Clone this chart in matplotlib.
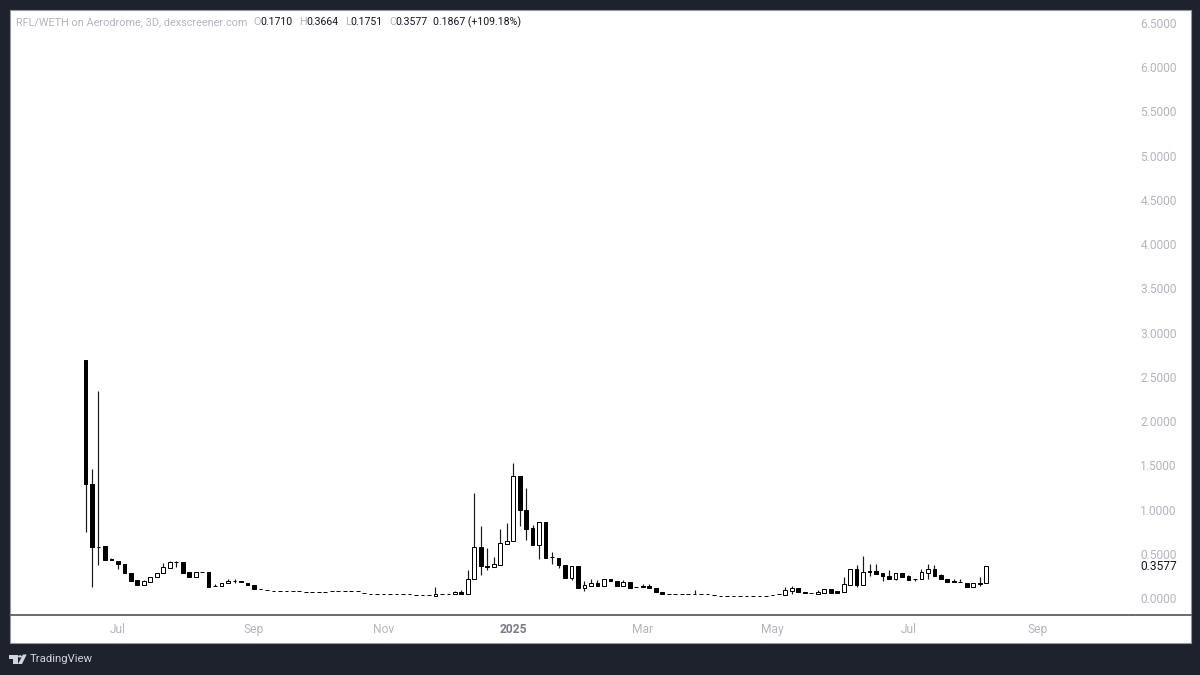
"""
RFL/WETH 3D candlestick chart, TradingView style.
"""

import matplotlib

matplotlib.use("Agg")

import matplotlib.pyplot as plt
from matplotlib.lines import Line2D
from matplotlib.patches import Polygon, Rectangle, Circle

plt.rcParams["font.family"] = ["Roboto", "DejaVu Sans"]

opens = [
    2.69, 1.29, 0.58, 0.588, 0.44, 0.42, 0.38, 0.285, 0.2, 0.145,
    0.185, 0.24, 0.28, 0.34, 0.41, 0.41, 0.29, 0.235, 0.295, 0.295,
    0.14, 0.135, 0.17, 0.195, 0.19, 0.165, 0.15, 0.105, 0.09, 0.08,
    0.08, 0.08, 0.08, 0.08, 0.07, 0.07, 0.065, 0.07, 0.075, 0.08,
    0.08, 0.075, 0.075, 0.06, 0.05, 0.05, 0.05, 0.05, 0.05, 0.05,
    0.04, 0.035, 0.03, 0.03, 0.02, 0.04, 0.04, 0.04, 0.07, 0.045,
    0.21, 0.577, 0.36, 0.35, 0.37, 0.61, 0.64, 1.38, 1.0, 0.795,
    0.6, 0.86, 0.46, 0.455, 0.375, 0.225, 0.365, 0.11, 0.14, 0.175,
    0.14, 0.21, 0.19, 0.135, 0.18, 0.125, 0.135, 0.135, 0.11, 0.065,
    0.05, 0.05, 0.045, 0.045, 0.04, 0.045, 0.05, 0.03, 0.025, 0.025,
    0.025, 0.025, 0.025, 0.025, 0.025, 0.025, 0.03, 0.04, 0.03, 0.08,
    0.11, 0.065, 0.06, 0.05, 0.06, 0.1, 0.08, 0.07, 0.145, 0.325,
    0.145, 0.3, 0.305, 0.28, 0.25, 0.215, 0.28, 0.245, 0.22, 0.22,
    0.285, 0.325, 0.255, 0.22, 0.19, 0.185, 0.175, 0.13, 0.165, 0.171,
]
highs = [
    2.69, 1.46, 2.34, 0.588, 0.45, 0.42, 0.38, 0.285, 0.2, 0.2,
    0.24, 0.28, 0.395, 0.42, 0.42, 0.41, 0.29, 0.29, 0.295, 0.295,
    0.155, 0.165, 0.22, 0.21, 0.19, 0.165, 0.15, 0.105, 0.09, 0.08,
    0.08, 0.08, 0.08, 0.08, 0.07, 0.07, 0.065, 0.07, 0.075, 0.08,
    0.08, 0.075, 0.075, 0.06, 0.05, 0.05, 0.05, 0.05, 0.05, 0.05,
    0.04, 0.035, 0.03, 0.03, 0.12, 0.04, 0.045, 0.08, 0.085, 0.32,
    1.19, 0.81, 0.57, 0.46, 0.78, 0.85, 1.53, 1.38, 1.24, 0.82,
    0.86, 0.86, 0.52, 0.455, 0.375, 0.365, 0.365, 0.19, 0.22, 0.2,
    0.21, 0.21, 0.19, 0.2, 0.18, 0.125, 0.155, 0.155, 0.11, 0.065,
    0.05, 0.05, 0.045, 0.045, 0.085, 0.045, 0.05, 0.03, 0.025, 0.025,
    0.025, 0.025, 0.025, 0.025, 0.025, 0.025, 0.03, 0.04, 0.13, 0.135,
    0.11, 0.065, 0.06, 0.095, 0.1, 0.1, 0.08, 0.235, 0.325, 0.375,
    0.47, 0.39, 0.385, 0.28, 0.32, 0.28, 0.28, 0.26, 0.22, 0.33,
    0.385, 0.37, 0.275, 0.22, 0.215, 0.21, 0.175, 0.165, 0.24, 0.3664,
]
lows = [
    0.746, 0.13, 0.373, 0.43, 0.43, 0.33, 0.28, 0.195, 0.145, 0.145,
    0.185, 0.24, 0.28, 0.34, 0.35, 0.285, 0.235, 0.235, 0.29, 0.13,
    0.14, 0.135, 0.17, 0.175, 0.185, 0.145, 0.1, 0.1, 0.09, 0.08,
    0.08, 0.08, 0.08, 0.075, 0.07, 0.07, 0.065, 0.07, 0.075, 0.08,
    0.08, 0.075, 0.075, 0.06, 0.05, 0.05, 0.05, 0.05, 0.05, 0.05,
    0.04, 0.035, 0.03, 0.03, 0.02, 0.04, 0.04, 0.04, 0.05, 0.045,
    0.21, 0.26, 0.32, 0.35, 0.37, 0.61, 0.64, 0.81, 0.66, 0.6,
    0.44, 0.45, 0.39, 0.34, 0.23, 0.2, 0.115, 0.08, 0.14, 0.14,
    0.14, 0.19, 0.135, 0.135, 0.115, 0.12, 0.13, 0.11, 0.065, 0.04,
    0.045, 0.045, 0.045, 0.045, 0.04, 0.045, 0.05, 0.03, 0.025, 0.025,
    0.025, 0.025, 0.025, 0.025, 0.025, 0.025, 0.03, 0.04, 0.03, 0.05,
    0.065, 0.06, 0.055, 0.05, 0.06, 0.06, 0.055, 0.07, 0.145, 0.13,
    0.145, 0.25, 0.27, 0.19, 0.215, 0.2, 0.24, 0.2, 0.19, 0.22,
    0.215, 0.25, 0.215, 0.185, 0.185, 0.18, 0.13, 0.13, 0.135, 0.1751,
]
closes = [
    1.29, 0.577, 0.575, 0.43, 0.43, 0.38, 0.28, 0.195, 0.145, 0.19,
    0.24, 0.28, 0.35, 0.41, 0.41, 0.285, 0.235, 0.29, 0.29, 0.13,
    0.14, 0.165, 0.195, 0.19, 0.185, 0.145, 0.1, 0.1, 0.09, 0.08,
    0.08, 0.08, 0.08, 0.08, 0.07, 0.07, 0.065, 0.07, 0.075, 0.08,
    0.08, 0.075, 0.075, 0.06, 0.05, 0.05, 0.05, 0.05, 0.05, 0.05,
    0.04, 0.035, 0.03, 0.03, 0.04, 0.04, 0.045, 0.07, 0.05, 0.21,
    0.577, 0.36, 0.35, 0.38, 0.62, 0.65, 1.38, 0.99, 0.78, 0.6,
    0.86, 0.45, 0.46, 0.37, 0.23, 0.365, 0.115, 0.145, 0.175, 0.14,
    0.21, 0.19, 0.135, 0.18, 0.115, 0.12, 0.13, 0.11, 0.065, 0.04,
    0.045, 0.045, 0.045, 0.045, 0.04, 0.045, 0.05, 0.03, 0.025, 0.025,
    0.025, 0.025, 0.025, 0.025, 0.025, 0.025, 0.03, 0.04, 0.09, 0.11,
    0.065, 0.06, 0.055, 0.07, 0.1, 0.06, 0.055, 0.155, 0.325, 0.145,
    0.295, 0.295, 0.27, 0.25, 0.215, 0.28, 0.24, 0.205, 0.22, 0.29,
    0.33, 0.25, 0.215, 0.185, 0.185, 0.18, 0.13, 0.165, 0.16, 0.3577,
]

x_tick_bars = [5, 26, 46, 66, 86, 106, 127, 147]
x_tick_labels = ["Jul", "Sep", "Nov", "2025", "Mar", "May", "Jul", "Sep"]
y_ticks = [0.0, 0.5, 1.0, 1.5, 2.0, 2.5, 3.0, 3.5, 4.0, 4.5, 5.0, 5.5, 6.0, 6.5]
last_price = 0.3577

# header pieces: text, left pixel, colour key
header_parts = [
    ("RFL/WETH on Aerodrome, 3D, dexscreener.com", 16, "muted"),
    ("O", 253, "muted"), ("0.1710", 260, "dark"),
    ("H", 299, "muted"), ("0.3664", 306, "dark"),
    ("L", 345, "muted"), ("0.1751", 350, "dark"),
    ("C", 389, "muted"), ("0.3577", 395, "dark"),
    ("0.1867 (+109.18%)", 433, "dark"),
]

WIDTH, HEIGHT = 1200, 675
BG = "#1e222d"
MUTED = "#b2b5be"
HEADER_COLORS = {"muted": MUTED, "dark": "#131722"}
HEADER_SIZES = {"muted": 7.85, "dark": 7.6}

# pixel frame of the plot
LEFT, RIGHT, TOP, BOTTOM = 10, 1132, 10, 615
FIRST_BAR_X, BAR_STEP = 85.5, 6.48
ZERO_Y, UNIT_Y = 598.0, 88.46


def px_rect(x0, y0, x1, y1):
    return [x0 / WIDTH, 1 - y1 / HEIGHT, (x1 - x0) / WIDTH, (y1 - y0) / HEIGHT]


def fx(x):
    return x / WIDTH


def fy(y):
    return 1 - y / HEIGHT


def draw_frame(fig):
    fig.add_artist(Rectangle((fx(9.5), fy(643)), fx(1191) - fx(9.5), fy(9.5) - fy(643),
                             transform=fig.transFigure, facecolor="white",
                             edgecolor="#9598a1", linewidth=0.8, zorder=-2))
    fig.add_artist(Line2D([fx(1133), fx(1191)], [fy(BOTTOM), fy(BOTTOM)],
                          transform=fig.transFigure, color="#50535e", linewidth=1.2))


def draw_candles(ax):
    bars = range(len(opens))
    ax.vlines(list(bars), lows, highs, color="#1a1a1a", linewidth=0.85, zorder=2)
    bottoms = [min(o, c) for o, c in zip(opens, closes)]
    heights = [abs(o - c) for o, c in zip(opens, closes)]
    colors = ["white" if c > o else "black" for o, c in zip(opens, closes)]
    ax.bar(list(bars), heights, bottom=bottoms, width=0.58, color=colors,
           edgecolor="black", linewidth=0.72, zorder=3)


def draw_logo(fig):
    c = "#d1d4dc"
    t = fig.transFigure
    shapes = [
        [(9, 654.5), (17.5, 654.5), (17.5, 664), (13, 664), (13, 658.5), (9, 658.5)],
        [(23, 654.5), (26.7, 654.5), (22, 664), (18, 664)],
    ]
    for pts in shapes:
        fig.add_artist(Polygon([(fx(x), fy(y)) for x, y in pts], closed=True,
                               transform=t, facecolor=c, edgecolor="none"))
    fig.add_artist(Circle((fx(20), fy(656.4)), 2 / WIDTH, transform=t,
                          facecolor=c, edgecolor="none"))
    fig.text(fx(30), fy(659.5), "TradingView", color=c, fontsize=8.2,
             va="center", ha="left")


def main():
    fig = plt.figure(figsize=(WIDTH / 100, HEIGHT / 100), dpi=100, facecolor=BG)
    draw_frame(fig)

    ax = fig.add_axes(px_rect(LEFT, TOP, RIGHT, BOTTOM))
    ax.patch.set_visible(False)
    ax.set_xlim((LEFT - FIRST_BAR_X) / BAR_STEP, (RIGHT - FIRST_BAR_X) / BAR_STEP)
    ax.set_ylim((ZERO_Y - BOTTOM) / UNIT_Y, (ZERO_Y - TOP) / UNIT_Y)

    for side in ["top", "left", "right"]:
        ax.spines[side].set_visible(False)
    ax.spines["bottom"].set_color("#50535e")
    ax.spines["bottom"].set_linewidth(1.2)

    draw_candles(ax)

    ax.set_xticks(x_tick_bars)
    ax.set_xticklabels(x_tick_labels)
    ax.tick_params(axis="x", length=0, pad=5.5, labelsize=8.64, labelcolor=MUTED)
    for label in ax.get_xticklabels():
        if label.get_text() == "2025":
            label.set_fontweight("bold")
            label.set_color("#787b86")

    ax.yaxis.tick_right()
    ax.set_yticks(y_ticks)
    ax.set_yticklabels([f"{v:.4f}" for v in y_ticks])
    ax.tick_params(axis="y", length=0, pad=6, labelsize=8.64, labelcolor=MUTED)

    ax.text(1.0075, last_price, f"{last_price:.4f}", color="#131722", fontsize=8.64,
            va="center", ha="left", transform=ax.get_yaxis_transform(), clip_on=False)

    for text, left, color_key in header_parts:
        fig.text(fx(left), fy(22), text, color=HEADER_COLORS[color_key],
                 fontsize=HEADER_SIZES[color_key], va="center", ha="left")

    draw_logo(fig)

    fig.savefig("out.png", dpi=100, facecolor=BG)
    plt.close(fig)


if __name__ == "__main__":
    main()
